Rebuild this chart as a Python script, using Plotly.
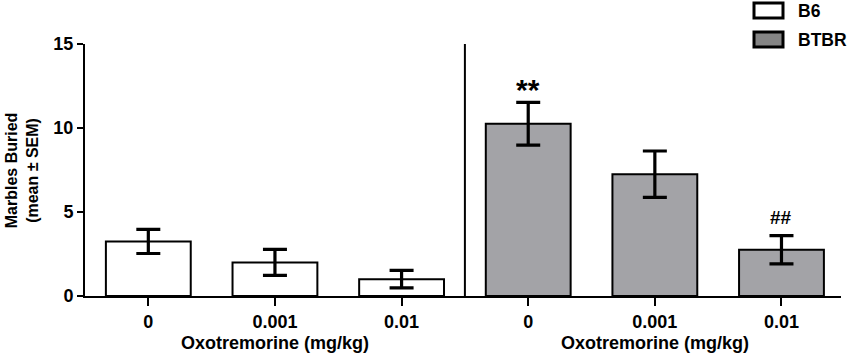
import plotly.graph_objects as go

doses = ["0", "0.001", "0.01"]
groups = ["B6", "BTBR"]
b6_mean = [3.25, 2.0, 1.0]
b6_sem = [0.72, 0.77, 0.52]
btbr_mean = [10.25, 7.25, 2.75]
btbr_sem = [1.27, 1.38, 0.84]
btbr_marks = ["**", "", "##"]
colors = {"B6": "#ffffff", "BTBR": "#a3a3a7"}
legend_colors = {"B6": "#ffffff", "BTBR": "#858585"}
xtitle = "Oxotremorine (mg/kg)"
ytitle = "Marbles Buried<br>(mean ± SEM)"

FONT = "Liberation Sans, Arial, Helvetica, sans-serif"
n = len(doses)
x_b6 = list(range(n))
x_btbr = [i + n for i in range(n)]

fig = go.Figure()
for name, xs, ys, es in [("B6", x_b6, b6_mean, b6_sem), ("BTBR", x_btbr, btbr_mean, btbr_sem)]:
    fig.add_trace(go.Bar(
        x=xs, y=ys, name=name, width=0.67,
        marker=dict(color=colors[name], line=dict(color="black", width=2)),
        error_y=dict(type="data", array=es, visible=True, color="black", thickness=3.2, width=12),
        showlegend=False,
    ))

# significance marks
for xi, yi, ei, m in zip(x_btbr, btbr_mean, btbr_sem, btbr_marks):
    if m:
        big = m == "**"
        fig.add_annotation(x=xi, y=yi + ei, text=m, showarrow=False, yanchor="bottom",
                           yshift=-6 if big else 6,
                           font=dict(family=FONT, size=30 if big else 19, color="black", weight="bold"))

# divider line between strains
fig.add_shape(type="line", xref="x", yref="y", x0=n - 0.5, x1=n - 0.5, y0=0, y1=15,
              line=dict(color="black", width=2))

# x-axis titles per panel
for cx in [(n - 1) / 2, n + (n - 1) / 2]:
    fig.add_annotation(x=cx, xref="x", y=0, yref="paper", yanchor="top", yshift=-35,
                       text=xtitle, showarrow=False,
                       font=dict(family=FONT, size=18, color="black", weight="bold"))

# y-axis title
fig.add_annotation(x=-0.083, xref="paper", y=0.5, yref="paper", xanchor="center", yanchor="middle",
                   text=ytitle, textangle=-90, showarrow=False,
                   font=dict(family=FONT, size=16, color="black", weight="bold"))

# manual legend
W, H = 756.0, 252.0
def px_x(p):
    return (p - 85) / W
def px_y(p):
    return (296 - p) / H
for i, g in enumerate(groups):
    top = 3 + i * 29
    fig.add_shape(type="rect", xref="paper", yref="paper",
                  x0=px_x(754), x1=px_x(783), y0=px_y(top + 15), y1=px_y(top),
                  fillcolor=legend_colors[g],
                  line=dict(color="black", width=3))
    fig.add_annotation(x=px_x(796), xref="paper", y=px_y(top + 7.5), yref="paper",
                       xanchor="left", yanchor="middle", text=g, showarrow=False,
                       font=dict(family=FONT, size=17.5, color="black", weight="bold"))

fig.update_layout(
    width=850, height=358,
    margin=dict(l=85, r=9, t=44, b=62),
    paper_bgcolor="white", plot_bgcolor="white",
    font=dict(family=FONT, size=18, color="black", weight="bold"),
)
fig.update_xaxes(
    range=[-0.5, 2 * n - 0.53],
    tickmode="array", tickvals=x_b6 + x_btbr, ticktext=doses + doses,
    showline=True, linecolor="black", linewidth=2,
    ticks="outside", ticklen=8, tickwidth=2, tickcolor="black",
    showgrid=False, zeroline=False,
    tickfont=dict(family=FONT, size=18, color="black", weight="bold"),
)
fig.update_yaxes(
    range=[0, 15], tickvals=[0, 5, 10, 15],
    showline=True, linecolor="black", linewidth=2,
    ticks="outside", ticklen=6, tickwidth=2, tickcolor="black",
    showgrid=False, zeroline=False,
    tickfont=dict(family=FONT, size=18, color="black", weight="bold"),
)

fig.write_html("out.html", config={"displayModeBar": False},
               post_script="document.body.style.margin='0';document.body.style.overflow='hidden';")
